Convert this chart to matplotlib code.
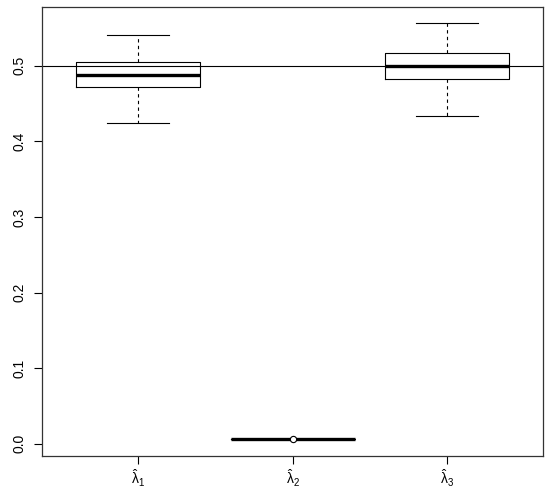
import matplotlib.pyplot as plt
import numpy as np

plt.rcParams['font.family'] = ['Liberation Sans', 'DejaVu Sans']
plt.rcParams['mathtext.fontset'] = 'custom'
plt.rcParams['mathtext.rm'] = 'Liberation Sans'
plt.rcParams['mathtext.it'] = 'Liberation Sans'
plt.rcParams['mathtext.default'] = 'regular'

labels = [r'$\hat{\lambda}_1$', r'$\hat{\lambda}_2$', r'$\hat{\lambda}_3$']
whislo = [0.4246, 0.0066, 0.4335]
q1 = [0.4714, 0.0066, 0.4824]
med = [0.4877, 0.0066, 0.5000]
q3 = [0.5045, 0.0066, 0.5172]
whishi = [0.5406, 0.0066, 0.5560]
fliers = [[], [0.0066], []]
ref_value = 0.5

stats = []
for i in range(3):
    stats.append(dict(whislo=whislo[i], q1=q1[i], med=med[i], q3=q3[i],
                      whishi=whishi[i], fliers=fliers[i], label=labels[i]))

fig = plt.figure(figsize=(5.5, 4.96), dpi=100)
ax = fig.add_axes([42 / 550, (496 - 455.7) / 496, (543.3 - 42) / 550, (455.7 - 7) / 496])

bp = ax.bxp(stats, positions=[1, 2, 3], widths=0.8,
            boxprops=dict(color='black', linewidth=0.8),
            medianprops=dict(color='black', linewidth=2.4),
            whiskerprops=dict(color='black', linewidth=0.8, linestyle=(0, (3, 3))),
            capprops=dict(color='black', linewidth=0.8),
            flierprops=dict(marker='o', markersize=4.5, markerfacecolor='white',
                            markeredgecolor='black', markeredgewidth=0.8),
            capwidths=0.4)
for f in bp['fliers']:
    f.set_zorder(5)
ax.axhline(ref_value, color='black', linewidth=0.8)

ax.set_xlim(0.38, 3.62)
ax.set_ylim(-0.0159, 0.5777)
ax.set_yticks([0.0, 0.1, 0.2, 0.3, 0.4, 0.5])
ax.set_yticklabels(['0.0', '0.1', '0.2', '0.3', '0.4', '0.5'], rotation=90, va='center')
ax.set_xticks([1, 2, 3])
ax.set_xticklabels(labels)
ax.tick_params(axis='both', length=6, width=0.8, labelsize=10)
ax.tick_params(axis='y', pad=5)
ax.tick_params(axis='x', pad=3)
for s in ax.spines.values():
    s.set_linewidth(0.9)
    s.set_color('#333333')

fig.savefig('out.png', dpi=100)
